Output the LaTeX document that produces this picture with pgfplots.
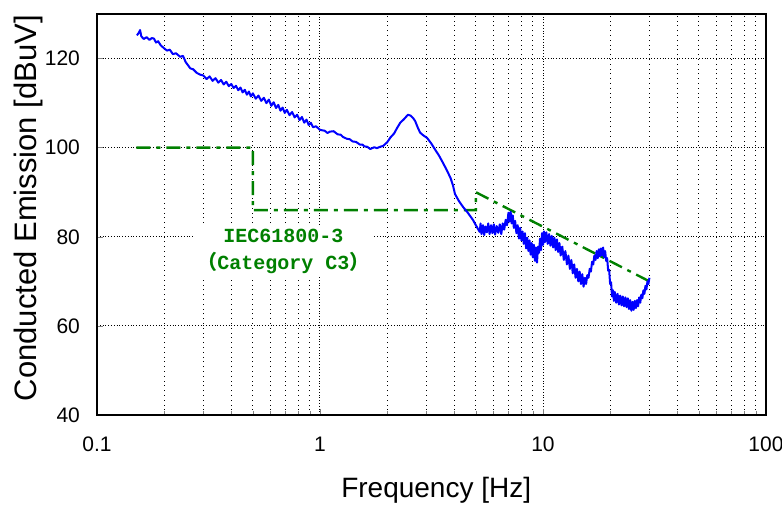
\documentclass[border=0pt]{standalone}
\usepackage{pgfplots}
\pgfplotsset{compat=1.18}
\usepackage{fontspec}
\setmainfont{Liberation Sans}
\newfontfamily\monofont{Liberation Mono}
\newfontfamily\cjk{Noto Sans CJK JP}
\definecolor{limgreen}{RGB}{0,128,0}
\definecolor{meas}{RGB}{0,0,255}
\begin{document}
\begin{tikzpicture}
\path[use as bounding box] (-48.5pt,-45pt) rectangle (342.5pt,207.5pt);
\begin{axis}[
  at={(0,0)}, anchor=south west,
  xmode=log, scale only axis, width=334.5pt, height=200.5pt,
  xmin=0.1, xmax=100, ymin=40, ymax=130,
  xtick={0.1,1,10,100}, xticklabels={0.1,1,10,100},
  minor xtick={0.2,0.3,0.4,0.5,0.6,0.7,0.8,0.9,2,3,4,5,6,7,8,9,20,30,40,50,60,70,80,90},
  ytick={40,60,80,100,120},
  xtick pos=left, ytick pos=left, tick align=inside,
  major tick length=3pt, minor tick length=2pt,
  grid=both,
  major grid style={densely dotted, black, line width=0.5pt},
  minor grid style={dotted, black, line width=0.45pt},
  axis line style={black, line width=0.75pt},
  /pgf/number format/assume math mode=true,
  tick label style={font=\fontsize{10.5}{12}\selectfont},
  xticklabel style={yshift=-7.5pt},
  yticklabel style={xshift=-5pt},
  xlabel={Frequency [Hz]}, ylabel={Conducted Emission [dBuV]},
  xlabel style={font=\fontsize{14}{16}\selectfont, at={(axis description cs:0.507,-0.187)}, anchor=center},
  ylabel style={font=\fontsize{15.5}{17}\selectfont, at={(axis description cs:-0.103,0.516)}, anchor=center},
]
% limit line IEC61800-3 C3
\addplot[limgreen, line width=1.2pt, dash pattern=on 7pt off 3pt on 2pt off 3pt] coordinates {
(0.15,100)(0.5,100)(0.5,86)(5,86)(5,90)(30,70)};
% measured emission
\addplot[meas, line width=1pt, line join=round] coordinates {
(0.151,125.2)(0.154,125.8)(0.156,126.4)(0.158,125.0)(0.162,124.4)(0.167,124.8)(0.172,124.2)(0.176,124.6)
(0.180,124.5)(0.184,123.6)(0.188,123.9)(0.193,123.0)(0.199,122.4)(0.206,121.8)(0.212,122.0)(0.219,121.0)
(0.226,121.2)(0.236,120.4)(0.243,120.6)(0.250,119.2)(0.256,118.5)(0.262,117.8)(0.270,117.6)(0.280,116.8)
(0.290,116.4)(0.30,116.2)(0.31,115.4)(0.32,116.0)(0.33,115.0)(0.34,115.6)(0.35,114.6)(0.36,115.2)
(0.37,114.2)(0.38,114.8)(0.39,113.8)(0.40,114.3)(0.41,113.4)(0.42,113.9)(0.43,112.9)(0.44,113.5)
(0.45,112.4)(0.46,113.0)(0.47,111.9)(0.48,112.6)(0.49,111.5)(0.50,112.2)(0.515,111.0)(0.53,111.7)
(0.545,110.5)(0.56,111.2)(0.575,110.0)(0.59,110.8)(0.605,109.4)(0.62,110.2)(0.635,108.9)(0.65,109.6)
(0.665,108.3)(0.68,109.0)(0.695,107.8)(0.71,108.5)(0.73,107.3)(0.75,108.0)(0.77,106.8)(0.79,107.4)
(0.81,106.2)(0.83,106.9)(0.85,105.6)(0.87,106.3)(0.89,105.1)(0.91,105.6)(0.93,104.6)(0.96,104.8)
(1.0,104.0)(1.05,103.8)(1.08,103.3)(1.107,103.6)(1.15,103.7)(1.2,103.0)(1.24,102.9)(1.268,102.4)
(1.32,102.0)(1.36,101.9)(1.4,101.4)(1.45,101.3)(1.51,100.7)(1.55,100.7)(1.58,100.3)(1.63,100.2)
(1.68,99.7)(1.75,100.1)(1.8,99.9)(1.86,100.2)(1.92,100.4)(2.0,101.2)(2.07,102.3)(2.15,103.2)
(2.21,104.3)(2.29,105.6)(2.38,106.4)(2.48,107.4)(2.55,107.2)(2.62,106.6)(2.67,106.0)(2.74,104.6)
(2.81,103.4)(2.9,102.8)(3.02,102.2)(3.15,101.0)(3.28,99.6)(3.42,98.2)(3.56,96.6)(3.7,95.0)
(3.85,93.2)(3.95,91.5)(4.03,89.6)(4.2,88.0)(4.38,86.7)(4.6,85.4)(4.85,83.8)(5.0,82.6)
(5.2,81.1)(5.25,83.0)(5.3,80.6)(5.38,82.6)(5.45,80.4)(5.52,82.3)(5.6,81.0)(5.68,83.0)(5.76,80.6)
(5.85,82.6)(5.93,80.8)(6.02,82.8)(6.1,80.5)(6.2,82.4)(6.3,80.9)(6.4,82.8)(6.5,80.6)(6.6,83.0)
(6.7,81.6)(6.8,83.8)(6.9,82.6)(7.0,85.4)(7.08,83.4)(7.16,85.6)(7.24,83.0)(7.32,84.8)(7.4,82.0)
(7.5,83.6)(7.6,80.8)(7.7,82.6)(7.8,79.6)(7.9,82.0)(8.0,79.2)(8.1,81.2)(8.2,78.4)(8.3,80.8)
(8.4,77.4)(8.5,79.8)(8.6,76.8)(8.7,79.2)(8.8,76.0)(8.9,78.6)(9.0,75.4)(9.1,78.2)(9.2,74.6)
(9.3,77.6)(9.4,74.2)(9.5,77.8)(9.6,76.4)(9.7,79.6)(9.8,77.0)(9.9,80.8)(10.0,78.2)(10.1,81.2)
(10.2,78.8)(10.35,81.0)(10.5,78.4)(10.65,80.6)(10.8,78.0)(10.95,80.2)(11.1,77.6)(11.25,79.8)
(11.4,77.0)(11.55,79.4)(11.7,76.6)(11.85,78.6)(12.0,75.8)(12.2,77.8)(12.4,74.8)(12.6,76.8)
(12.8,73.8)(13.0,75.8)(13.2,72.8)(13.4,74.8)(13.6,71.8)(13.8,73.8)(14.0,70.8)(14.2,72.8)
(14.4,70.0)(14.6,72.2)(14.8,69.4)(15.0,71.6)(15.2,68.8)(15.4,70.8)(15.6,69.4)(15.8,71.4)
(16.0,70.8)(16.2,72.8)(16.4,72.2)(16.6,74.4)(16.8,73.8)(17.0,75.8)(17.2,74.8)(17.4,76.8)
(17.6,75.2)(17.8,77.2)(18.0,75.6)(18.2,77.4)(18.4,75.8)(18.6,77.6)(18.8,75.4)(19.0,76.8)
(19.2,74.6)(19.4,75.2)(19.6,72.4)(19.8,72.6)(20.0,69.4)(20.2,69.8)(20.4,66.6)(20.6,68.0)
(20.8,65.6)(21.0,67.6)(21.3,65.2)(21.6,67.2)(21.9,64.8)(22.2,66.8)(22.5,64.6)(22.8,66.6)
(23.1,64.4)(23.4,66.4)(23.7,64.2)(24.0,66.2)(24.3,63.8)(24.6,65.8)(24.9,63.4)(25.2,65.4)
(25.5,63.6)(25.8,65.6)(26.1,64.0)(26.4,65.8)(26.7,64.4)(27.0,66.4)(27.3,65.2)(27.6,67.0)
(27.9,66.2)(28.2,68.0)(28.5,67.2)(28.8,69.0)(29.1,68.2)(29.4,70.0)(29.7,69.4)(30.0,70.8)};
\node[fill=white, inner sep=1.5pt, align=center, text=limgreen,
  font=\monofont\bfseries\fontsize{10}{13.5}\selectfont]
  at (axis cs:0.686,76.8) {IEC61800-3\\{\cjk （}Category C3{\cjk ）}};
\end{axis}
\end{tikzpicture}
\end{document}
